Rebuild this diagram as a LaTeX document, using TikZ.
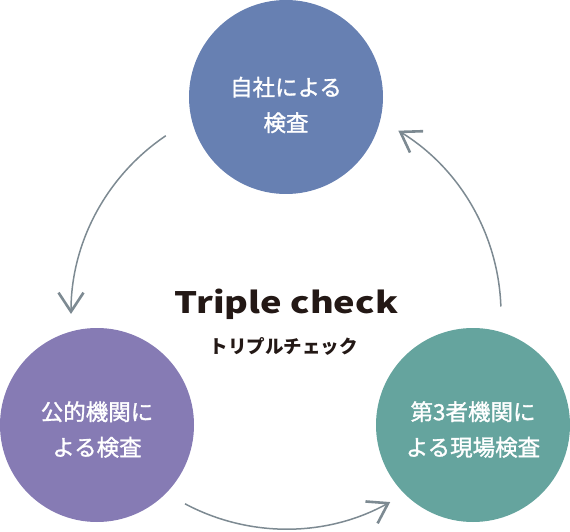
\documentclass[tikz,border=0pt]{standalone}
\usepackage{fontspec}
\setmainfont{Noto Sans CJK JP}
\newfontfamily\jpmed{Noto Sans CJK JP}[RawFeature={embolden=1.3}]
\usetikzlibrary{arrows.meta}
\definecolor{cTop}{RGB}{103,128,178}
\definecolor{cLeft}{RGB}{134,123,180}
\definecolor{cRight}{RGB}{101,164,158}
\definecolor{cArrow}{RGB}{125,138,146}
\definecolor{cText}{RGB}{35,24,21}
\begin{document}
\begin{tikzpicture}[x=1pt,y=1pt,
  stage/.style={circle, minimum size=194pt, inner sep=0pt},
  stagetext/.style={text=white, font=\jpmed\fontsize{22.5}{35.5}\selectfont, align=center, inner sep=0pt},
  cyc/.style={draw=cArrow, line width=1.5pt, -{Straight Barb[length=19pt, width=25pt, line width=2.6pt]}}]
\useasboundingbox (0,0) rectangle (570,531);
\node[stage, fill=cTop] (top) at (286,434) {};
\node[stage, fill=cLeft] (left) at (97,106) {};
\node[stage, fill=cRight] (right) at (473,106) {};
\node[stagetext] (toptext) at (286,426) {自社による\\検査};
\node[stagetext] (lefttext) at (97,101.5) {公的機関に\\よる検査};
\node[stagetext] (righttext) at (473,101.5) {第3者機関に\\よる現場検査};
\node[text=cText, inner sep=0pt, anchor=base] (title) at (286.5,218) {\resizebox{223pt}{24.5pt}{\bfseries\fontsize{32}{32}\selectfont Triple check}};
\node[font=\bfseries\fontsize{18.5}{18.5}\selectfont, text=cText, inner sep=0pt] (sub) at (283.5,185) {トリプルチェック};
\coordinate (ctr) at (286,217);
\draw[cyc] ([shift={(124:215pt)}]ctr) arc[start angle=124, end angle=180, radius=215pt];
\draw[cyc] ([shift={(242:215pt)}]ctr) arc[start angle=242, end angle=299, radius=215pt];
\draw[cyc] ([shift={(2:215pt)}]ctr) arc[start angle=2, end angle=58.5, radius=215pt];
\end{tikzpicture}
\end{document}
